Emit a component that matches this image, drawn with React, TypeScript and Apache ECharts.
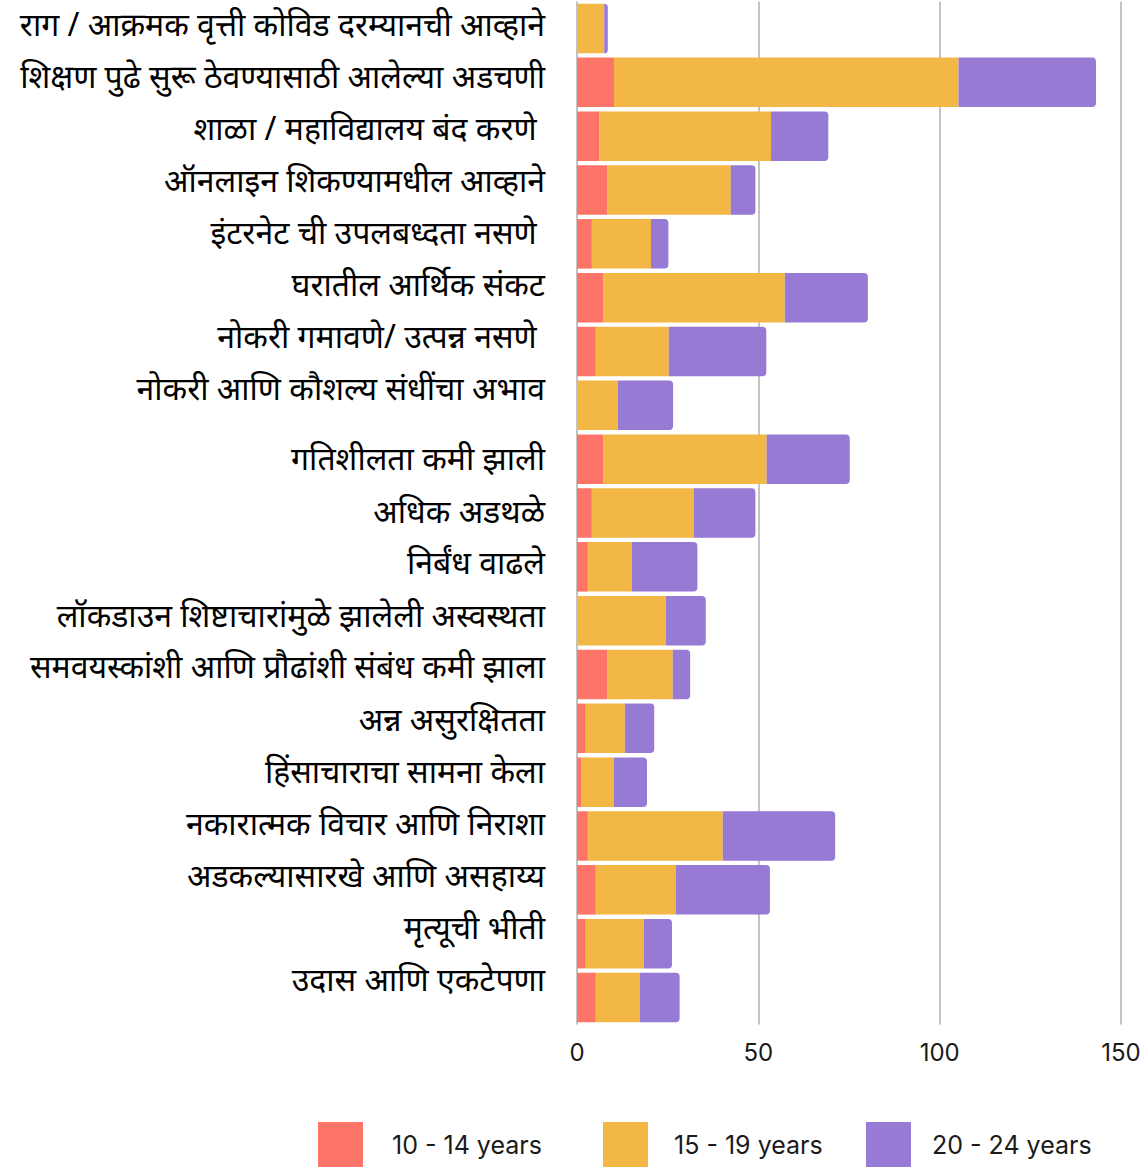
import React, { useEffect, useRef } from "react";
import * as echarts from "echarts";

const categories = [
  "राग / आक्रमक वृत्ती कोविड दरम्यानची आव्हाने",
  "शिक्षण पुढे सुरू ठेवण्यासाठी आलेल्या अडचणी",
  "शाळा / महाविद्यालय बंद करणे ",
  "ऑनलाइन शिकण्यामधील आव्हाने",
  "इंटरनेट ची उपलबध्दता नसणे ",
  "घरातील आर्थिक संकट",
  "नोकरी गमावणे/ उत्पन्न नसणे ",
  "नोकरी आणि कौशल्य संधींचा अभाव",
  "गतिशीलता कमी झाली",
  "अधिक अडथळे",
  "निर्बंध वाढले",
  "लॉकडाउन शिष्टाचारांमुळे झालेली अस्वस्थता",
  "समवयस्कांशी आणि प्रौढांशी संबंध कमी झाला",
  "अन्न असुरक्षितता",
  "हिंसाचाराचा सामना केला",
  "नकारात्मक विचार आणि निराशा",
  "अडकल्यासारखे आणि असहाय्य",
  "मृत्यूची भीती",
  "उदास आणि एकटेपणा",
];

const seriesNames = ["10 - 14 years", "15 - 19 years", "20 - 24 years"];

const age10to14 = [0, 10.2, 6.1, 8.3, 4.1, 7.2, 5.2, 0, 7.2, 4.1, 3.0, 0, 8.3, 2.2, 1.1, 3.0, 5.2, 2.2, 5.2];
const age15to19 = [7.5, 95.0, 47.4, 34.1, 16.3, 50.1, 20.1, 11.3, 45.1, 28.1, 12.1, 24.5, 18.1, 11.0, 9.1, 37.2, 22.1, 16.2, 12.1];
const age20to24 = [1.0, 37.9, 15.8, 6.8, 4.8, 22.9, 26.9, 15.2, 22.9, 17.0, 18.1, 11.0, 4.8, 8.1, 9.1, 31.0, 25.9, 7.8, 11.0];

const xTicks = [0, 50, 100, 150];

const colors = ["#fe7468", "#f2b745", "#977ad4"];

// label block split (the reference places labels in two groups with slightly tighter spacing)
const labelGroupBreak = 8;

function labelShift(i: number): number {
  if (i < labelGroupBreak) return 5 + 1.86 * i;
  return 1.5 + 1.7 * (i - labelGroupBreak);
}

export default function App() {
  const ref = useRef<HTMLDivElement>(null);
  useEffect(() => {
    document.body.style.margin = "0";
    if (!ref.current) return;
    const chart = echarts.init(ref.current, undefined, { renderer: "svg" });
    const dataSets = [age10to14, age15to19, age20to24];
    const rich: Record<string, any> = {};
    categories.forEach((_, i) => {
      rich["r" + i] = {
        fontSize: 32,
        color: "#000",
        fontFamily: "'Noto Sans', sans-serif",
        padding: [0, 0, Math.round(labelShift(i) * 2), 0],
      };
    });
    const legendLefts = [318, 603, 866];
    const legendPads = [24, 21, 16];
    chart.setOption({
      animation: false,
      color: colors,
      grid: { left: 577, right: 26, top: 1.6, bottom: 144.6, containLabel: false },
      xAxis: {
        type: "value",
        min: xTicks[0],
        max: xTicks[xTicks.length - 1],
        interval: 50,
        axisLine: { show: false },
        axisTick: { show: false },
        splitLine: { show: true, lineStyle: { color: "#c4c4c4", width: 2 } },
        axisLabel: {
          fontSize: 24,
          color: "#1a1a1a",
          margin: 16,
          fontFamily: "Inter, 'Noto Sans', sans-serif",
        },
      },
      yAxis: {
        type: "category",
        data: categories,
        inverse: true,
        axisLine: { show: false },
        axisTick: { show: false },
        axisLabel: {
          fontSize: 32,
          color: "#000",
          margin: 32,
          fontFamily: "'Noto Sans', sans-serif",
          formatter: (v: string, i: number) => `{r${i}|${v}}`,
          rich,
        },
      },
      legend: seriesNames.map((name, i) => ({
        left: legendLefts[i],
        top: 1122,
        padding: 0,
        itemWidth: 45,
        itemHeight: 45,
        icon: "rect",
        textStyle: {
          fontSize: 25,
          color: "#1a1a1a",
          fontFamily: "Inter, 'Noto Sans', sans-serif",
          padding: [0, 0, 14, legendPads[i]],
        },
        data: [name],
      })),
      series: seriesNames.map((name, i) => ({
        name,
        type: "bar",
        stack: "total",
        barCategoryGap: "8%",
        data: dataSets[i],
        itemStyle: {
          color: colors[i],
          borderRadius: i === 2 ? [0, 4, 4, 0] : 0,
        },
      })),
    });
    return () => chart.dispose();
  }, []);
  return <div ref={ref} style={{ width: 1147, height: 1169 }} />;
}
